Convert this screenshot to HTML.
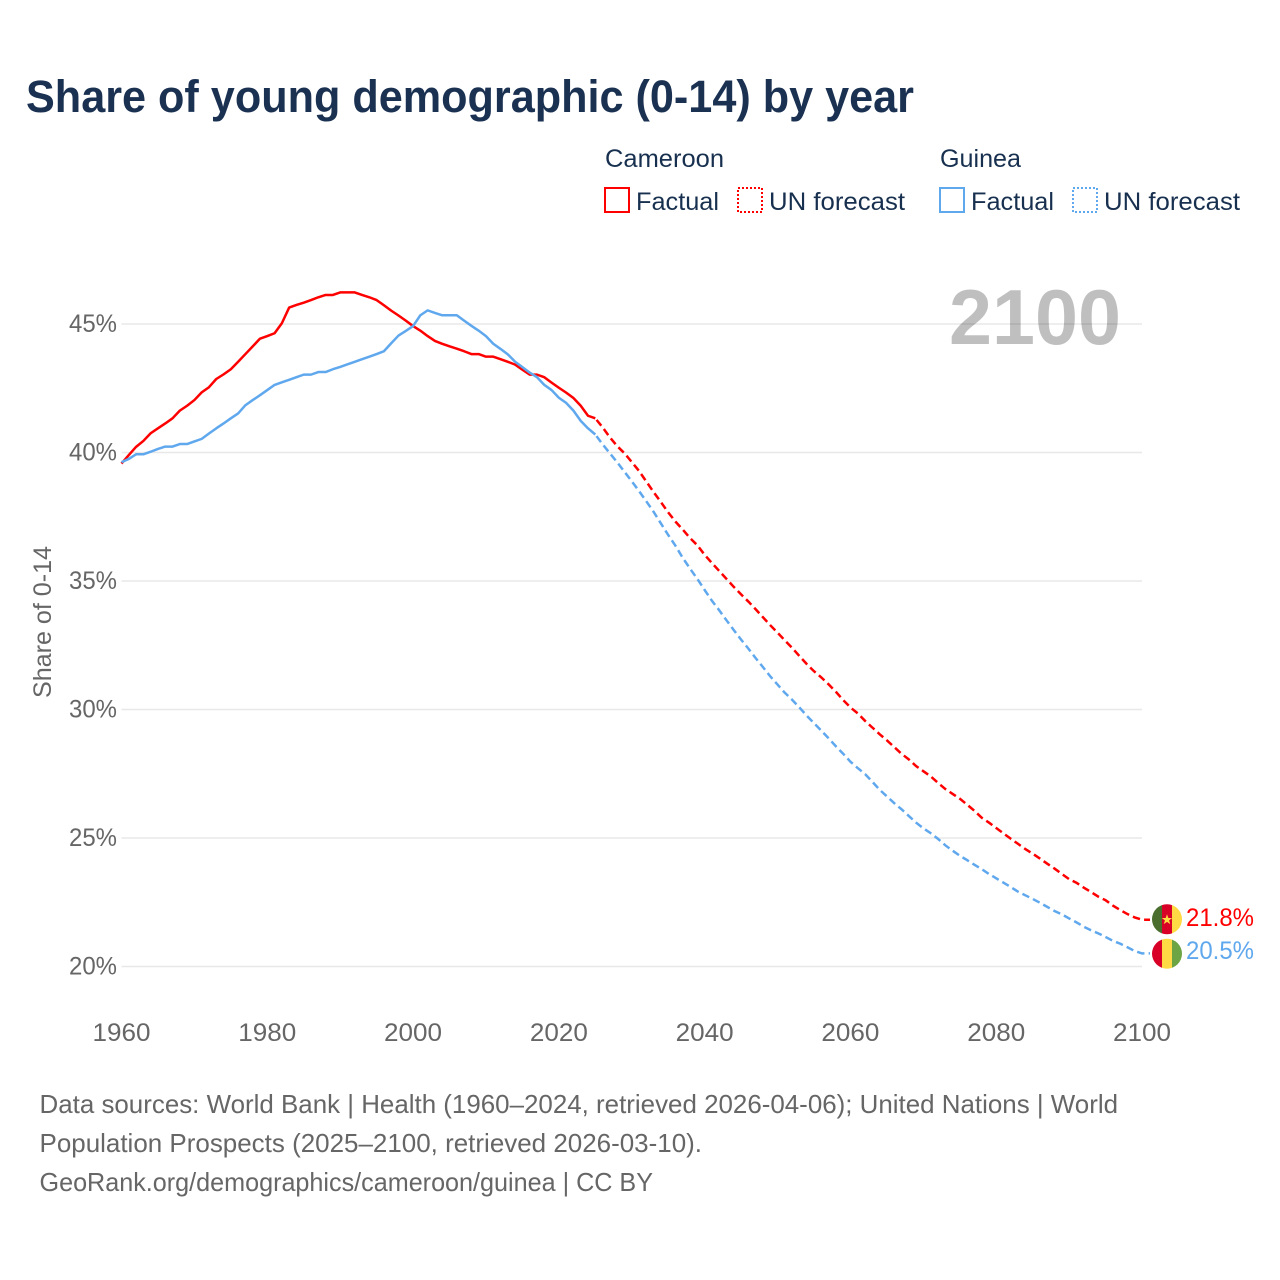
<!DOCTYPE html>
<html lang="en">
<head>
<meta charset="utf-8">
<title>Share of young demographic (0-14) by year</title>
<style>
  html, body { margin: 0; padding: 0; background: #ffffff; }
  #chart-root { display: block; width: 1280px; height: 1280px; font-family: "Liberation Sans", sans-serif; }
  .legend-text { font-size: 25px; fill: #18304f; }
  .tick-text { font-size: 25px; fill: #666666; }
  .source-text { font-size: 26px; fill: #666666; }
</style>
</head>
<body>
<svg id="chart-root" xmlns="http://www.w3.org/2000/svg" width="1280" height="1280" viewBox="0 0 1280 1280">
  <rect x="0" y="0" width="1280" height="1280" fill="#ffffff"/>
  <defs>
    <clipPath id="flag-clip-cameroon"><circle id="flag-clip-circle-cameroon" cx="1167" cy="919" r="15"/></clipPath>
    <clipPath id="flag-clip-guinea"><circle id="flag-clip-circle-guinea" cx="1167" cy="954" r="15"/></clipPath>
  </defs>

  <text x="26" y="112" font-size="45" font-weight="700" fill="#1a3152" textLength="888" lengthAdjust="spacingAndGlyphs">Share of young demographic (0-14) by year</text>

  <g>
    <text class="legend-text" x="605" y="167" textLength="119" lengthAdjust="spacingAndGlyphs">Cameroon</text>
    <rect x="605" y="188" width="24" height="24" fill="none" stroke="#ff0000" stroke-width="2"/>
    <text class="legend-text" x="636" y="210" textLength="83" lengthAdjust="spacingAndGlyphs">Factual</text>
    <rect x="738" y="188" width="24" height="24" fill="none" stroke="#ff0000" stroke-width="2" stroke-dasharray="2 2"/>
    <text class="legend-text" x="769" y="210" textLength="136" lengthAdjust="spacingAndGlyphs">UN forecast</text>

    <text class="legend-text" x="940" y="167" textLength="81" lengthAdjust="spacingAndGlyphs">Guinea</text>
    <rect x="940" y="188" width="24" height="24" fill="none" stroke="#60a8ee" stroke-width="2"/>
    <text class="legend-text" x="971" y="210" textLength="83" lengthAdjust="spacingAndGlyphs">Factual</text>
    <rect x="1073" y="188" width="24" height="24" fill="none" stroke="#60a8ee" stroke-width="2" stroke-dasharray="2 2"/>
    <text class="legend-text" x="1104" y="210" textLength="136" lengthAdjust="spacingAndGlyphs">UN forecast</text>
  </g>

  <g id="grid-layer"></g>
  <text x="949" y="344" font-size="78" font-weight="700" fill="#000000" fill-opacity="0.25" textLength="172" lengthAdjust="spacingAndGlyphs">2100</text>
  <g id="y-tick-layer"></g>
  <g id="x-tick-layer"></g>
  <text class="tick-text" transform="translate(51,698) rotate(-90)" x="0" y="0" textLength="152" lengthAdjust="spacingAndGlyphs">Share of 0-14</text>
  <g id="series-layer"></g>

  <g id="flag-cameroon">
    <g clip-path="url(#flag-clip-cameroon)">
      <rect id="cm-green" x="1152" y="900" width="10" height="40" fill="#496e2d"/>
      <rect id="cm-red" x="1162" y="900" width="10" height="40" fill="#d80027"/>
      <rect id="cm-yellow" x="1172" y="900" width="10" height="40" fill="#ffda44"/>
    </g>
    <polygon id="cm-star" fill="#ffda44" points=""/>
  </g>
  <g id="flag-guinea">
    <g clip-path="url(#flag-clip-guinea)">
      <rect id="gn-red" x="1152" y="935" width="10" height="40" fill="#d80027"/>
      <rect id="gn-yellow" x="1162" y="935" width="10" height="40" fill="#ffda44"/>
      <rect id="gn-green" x="1172" y="935" width="10" height="40" fill="#6da544"/>
    </g>
  </g>
  <text id="end-label-cameroon" x="1186" y="926" font-size="25" fill="#ff0000" textLength="68" lengthAdjust="spacingAndGlyphs"></text>
  <text id="end-label-guinea" x="1186" y="959" font-size="25" fill="#60a8ee" textLength="68" lengthAdjust="spacingAndGlyphs"></text>

  <g>
    <text class="source-text" x="39.5" y="1113" textLength="1078.5" lengthAdjust="spacingAndGlyphs">Data sources: World Bank | Health (1960–2024, retrieved 2026-04-06); United Nations | World</text>
    <text class="source-text" x="39.5" y="1152" textLength="662.5" lengthAdjust="spacingAndGlyphs">Population Prospects (2025–2100, retrieved 2026-03-10).</text>
    <text class="source-text" x="39.5" y="1191" textLength="613.5" lengthAdjust="spacingAndGlyphs">GeoRank.org/demographics/cameroon/guinea | CC BY</text>
  </g>
</svg>

<script>
const xTickYears = [1960, 1980, 2000, 2020, 2040, 2060, 2080, 2100];
const yTickValues = [20, 25, 30, 35, 40, 45];
const firstFactualYear = 1960;
const firstForecastYear = 2025;

const cameroonFactual = [
  39.57,39.90,40.22,40.45,40.75,40.94,41.13,41.33,41.63,41.82,
  42.04,42.34,42.54,42.86,43.04,43.24,43.53,43.83,44.13,44.43,
  44.53,44.64,45.03,45.64,45.74,45.83,45.93,46.04,46.13,46.13,
  46.23,46.23,46.23,46.13,46.04,45.93,45.73,45.52,45.33,45.13,
  44.92,44.74,44.53,44.34,44.23,44.13,44.04,43.94,43.83,43.83,
  43.73,43.73,43.63,43.53,43.42,43.22,43.03,43.03,42.93,42.72,
  42.52,42.33,42.12,41.82,41.43
];
const guineaFactual = [
  39.62,39.75,39.93,39.93,40.03,40.14,40.23,40.23,40.33,40.33,
  40.43,40.53,40.74,40.94,41.13,41.33,41.52,41.84,42.04,42.23,
  42.43,42.63,42.73,42.83,42.93,43.03,43.03,43.13,43.13,43.24,
  43.33,43.43,43.53,43.63,43.73,43.83,43.94,44.25,44.55,44.73,
  44.92,45.34,45.53,45.43,45.34,45.34,45.34,45.13,44.93,44.74,
  44.53,44.23,44.03,43.82,43.53,43.32,43.11,42.93,42.63,42.43,
  42.13,41.93,41.63,41.23,40.94
];
const cameroonForecast = [
  41.33,40.98,40.59,40.25,39.97,39.63,39.28,38.87,38.46,38.07,
  37.67,37.31,37.00,36.67,36.39,36.02,35.70,35.39,35.08,34.77,
  34.48,34.20,33.90,33.59,33.28,32.99,32.69,32.40,32.08,31.77,
  31.49,31.25,30.98,30.69,30.37,30.08,29.85,29.56,29.30,29.04,
  28.80,28.54,28.28,28.06,27.80,27.60,27.40,27.15,26.91,26.72,
  26.53,26.30,26.06,25.79,25.60,25.39,25.18,24.97,24.77,24.57,
  24.39,24.20,24.00,23.81,23.60,23.40,23.26,23.07,22.90,22.72,
  22.58,22.37,22.20,22.04,21.91,21.82
];
const guineaForecast = [
  40.70,40.32,39.97,39.62,39.25,38.88,38.50,38.10,37.69,37.24,
  36.79,36.37,35.90,35.48,35.08,34.65,34.23,33.86,33.47,33.09,
  32.72,32.37,32.00,31.65,31.29,30.97,30.65,30.38,30.08,29.76,
  29.47,29.18,28.88,28.57,28.28,27.97,27.72,27.49,27.19,26.88,
  26.62,26.36,26.12,25.86,25.60,25.38,25.19,24.97,24.72,24.51,
  24.31,24.14,23.96,23.79,23.60,23.43,23.26,23.09,22.91,22.77,
  22.63,22.48,22.32,22.16,22.03,21.87,21.72,21.55,21.41,21.29,
  21.15,21.00,20.89,20.75,20.60,20.51
];

const SVG_NS = 'http://www.w3.org/2000/svg';
const RED = '#ff0000';
const BLUE = '#60a8ee';
const xScale = function (year) { return 121.5 + (year - 1960) * (1142 - 121.5) / 140; };
const yScale = function (pct) { return 966.5 - (pct - 20) * (966.5 - 324) / 25; };
const make = function (tag) { return document.createElementNS(SVG_NS, tag); };

const gridLayer = document.getElementById('grid-layer');
const yTickLayer = document.getElementById('y-tick-layer');
const xTickLayer = document.getElementById('x-tick-layer');
const seriesLayer = document.getElementById('series-layer');

yTickValues.forEach(function (v) {
  const line = make('line');
  
  
  line.setAttribute('x1', xScale(1960));
  line.setAttribute('x2', xScale(2100));
  line.setAttribute('y1', yScale(v));
  line.setAttribute('y2', yScale(v));
  line.setAttribute('stroke', '#e8e8e8');
  line.setAttribute('stroke-width', '1.5');
  gridLayer.appendChild(line);

  const label = make('text');
  
  
  label.setAttribute('class', 'tick-text');
  label.setAttribute('x', 69);
  label.setAttribute('y', yScale(v) + 8);
  label.setAttribute('textLength', '48');
  label.setAttribute('lengthAdjust', 'spacingAndGlyphs');
  label.textContent = v + '%';
  yTickLayer.appendChild(label);
});

xTickYears.forEach(function (year) {
  const label = make('text');
  
  
  label.setAttribute('class', 'tick-text');
  label.setAttribute('x', xScale(year) - 29);
  label.setAttribute('y', 1041);
  label.setAttribute('textLength', '58');
  label.setAttribute('lengthAdjust', 'spacingAndGlyphs');
  label.textContent = String(year);
  xTickLayer.appendChild(label);
});

function pathFrom(values, startYear) {
  return values.map(function (v, i) {
    return (i === 0 ? 'M' : 'L') + xScale(startYear + i).toFixed(2) + ' ' + yScale(v).toFixed(2);
  }).join(' ');
}

function drawSeries(key, factual, forecast, color) {
  const solid = make('path');
  
  
  solid.setAttribute('d', pathFrom(factual.concat([forecast[0]]), firstFactualYear));
  solid.setAttribute('fill', 'none');
  solid.setAttribute('stroke', color);
  solid.setAttribute('stroke-width', '2.5');
  solid.setAttribute('stroke-linejoin', 'round');
  seriesLayer.appendChild(solid);

  const last = forecast[forecast.length - 1];
  const dashed = make('path');
  
  
  dashed.setAttribute('d', pathFrom(forecast, firstForecastYear) + ' L' + (xScale(2100) + 8).toFixed(2) + ' ' + yScale(last).toFixed(2));
  dashed.setAttribute('fill', 'none');
  dashed.setAttribute('stroke', color);
  dashed.setAttribute('stroke-width', '2.5');
  dashed.setAttribute('stroke-dasharray', '7.5 4.2');
  dashed.setAttribute('stroke-dashoffset', '-2');
  seriesLayer.appendChild(dashed);
}

drawSeries('cameroon', cameroonFactual, cameroonForecast, RED);
drawSeries('guinea', guineaFactual, guineaForecast, BLUE);

const cameroonEnd = cameroonForecast[cameroonForecast.length - 1];
const guineaEnd = guineaForecast[guineaForecast.length - 1];
const cmY = yScale(cameroonEnd) - 0.5;
const gnY = yScale(guineaEnd) + 0.3;

function placeFlag(circleId, rectIds, cy) {
  document.getElementById(circleId).setAttribute('cy', cy);
  rectIds.forEach(function (id) {
    document.getElementById(id).setAttribute('y', cy - 16);
    document.getElementById(id).setAttribute('height', 32);
  });
}
placeFlag('flag-clip-circle-cameroon', ['cm-green', 'cm-red', 'cm-yellow'], cmY);
placeFlag('flag-clip-circle-guinea', ['gn-red', 'gn-yellow', 'gn-green'], gnY);

const starPoints = [];
for (let i = 0; i < 10; i++) {
  const r = i % 2 === 0 ? 5.5 : 2.2;
  const a = -Math.PI / 2 + i * Math.PI / 5;
  starPoints.push((1167 + r * Math.cos(a)).toFixed(2) + ',' + (cmY + 0.5 + r * Math.sin(a)).toFixed(2));
}
document.getElementById('cm-star').setAttribute('points', starPoints.join(' '));

const labelCm = document.getElementById('end-label-cameroon');
labelCm.textContent = cameroonEnd.toFixed(1) + '%';
labelCm.setAttribute('y', cmY + 7);
const labelGn = document.getElementById('end-label-guinea');
labelGn.textContent = guineaEnd.toFixed(1) + '%';
labelGn.setAttribute('y', gnY + 5.5);
</script>
</body>
</html>
